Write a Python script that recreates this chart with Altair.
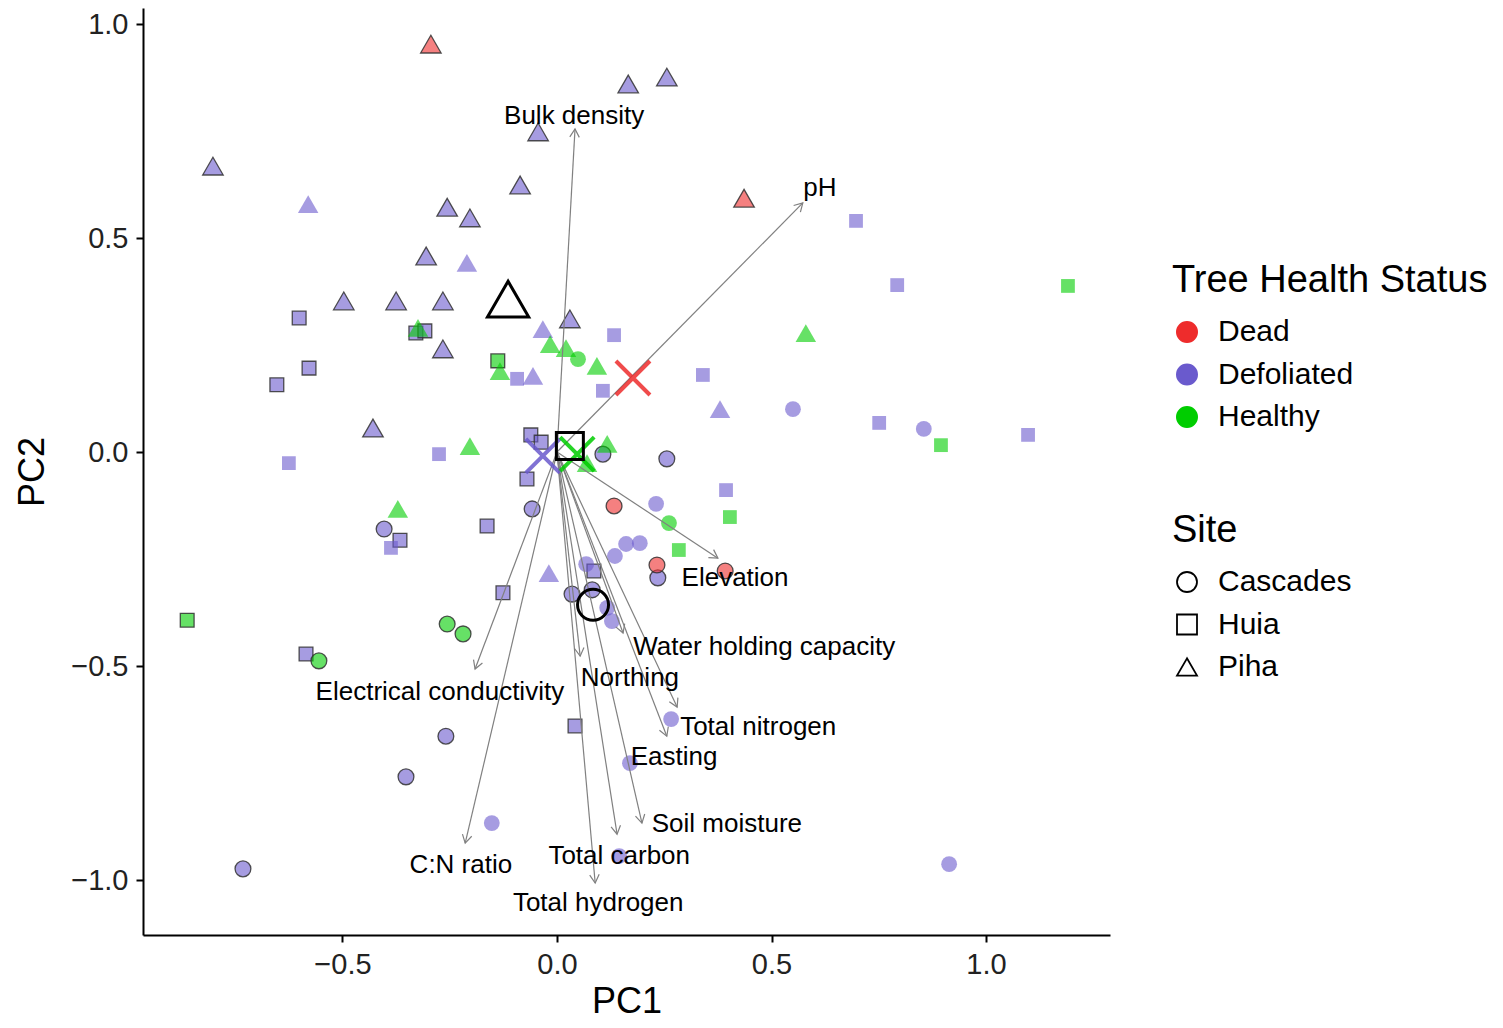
import math
import altair as alt
import pandas as pd

FONT = "Liberation Sans"
HEALTH = ["Dead", "Defoliated", "Healthy"]
HEALTH_COLORS = ["#EE2C2C", "#6A5ACD", "#00CD00"]
SITES = ["Cascades", "Huia", "Piha"]
SITE_SHAPES = ["circle", "square", "triangle-up"]
SHAPE_SIZE = {"Cascades": 250, "Huia": 190, "Piha": 420}

# ---- samples drawn with a dark outline ----
o_pc1 = [0.166, 0.256, -0.044, -0.086, -0.256, -0.203, -0.305, -0.497, -0.375, -0.266, -0.266, 0.030, -0.429, -0.802,
         -0.294, 0.436,
         -0.601, -0.578, -0.653, -0.329, -0.308, -0.061, -0.037, -0.070, -0.163, -0.366, -0.126, 0.086, -0.585, 0.042,
         -0.138, -0.862,
         0.107, 0.256, -0.058, -0.403, 0.235, 0.035, 0.082, -0.259, -0.352, -0.732,
         0.133, 0.233, 0.392,
         -0.256, -0.219, -0.555]
o_pc2 = [0.860, 0.876, 0.748, 0.624, 0.572, 0.547, 0.458, 0.353, 0.353, 0.353, 0.241, 0.311, 0.056, 0.668,
         0.953, 0.593,
         0.313, 0.196, 0.157, 0.278, 0.283, 0.040, 0.023, -0.063, -0.173, -0.206, -0.329, -0.278, -0.472, -0.640,
         0.213, -0.393,
         -0.005, -0.016, -0.133, -0.180, -0.294, -0.332, -0.322, -0.664, -0.759, -0.974,
         -0.126, -0.264, -0.278,
         -0.402, -0.425, -0.488]
o_health = (["Defoliated"] * 14 + ["Dead"] * 2 + ["Defoliated"] * 14 + ["Healthy"] * 2
            + ["Defoliated"] * 10 + ["Dead"] * 3 + ["Healthy"] * 3)
o_site = ["Piha"] * 16 + ["Huia"] * 16 + ["Cascades"] * 16

# ---- samples drawn without outline ----
p_pc1 = [-0.580, -0.210, -0.033, -0.056, 0.380, -0.019,
         -0.324, -0.016, 0.021, 0.093, -0.133, -0.203, 0.117, 0.070, -0.371, 0.580,
         0.133, -0.093, 0.107, 0.340, -0.275, -0.625, -0.387, 0.394, 0.697, 0.793, 0.751, 1.098,
         1.191, 0.895, 0.403, 0.284,
         0.550, 0.855, 0.231, 0.193, 0.161, 0.135, 0.068, 0.117, 0.128, 0.266, 0.170, -0.152, 0.145, 0.914,
         0.049, 0.261]
p_pc2 = [0.579, 0.442, 0.287, 0.178, 0.100, -0.283,
         0.290, 0.252, 0.243, 0.201, 0.189, 0.014, 0.019, -0.026, -0.133, 0.278,
         0.273, 0.171, 0.143, 0.180, -0.005, -0.026, -0.224, -0.089, 0.540, 0.390, 0.068, 0.040,
         0.388, 0.016, -0.152, -0.229,
         0.100, 0.054, -0.121, -0.213, -0.215, -0.243, -0.262, -0.364, -0.395, -0.624, -0.727, -0.867, -0.944, -0.963,
         0.217, -0.166]
p_health = (["Defoliated"] * 6 + ["Healthy"] * 10 + ["Defoliated"] * 12 + ["Healthy"] * 4
            + ["Defoliated"] * 14 + ["Healthy"] * 2)
p_site = ["Piha"] * 16 + ["Huia"] * 16 + ["Cascades"] * 16

# ---- variable loadings (arrows) ----
var_names = ["Bulk density", "pH", "Elevation", "Water holding capacity", "Northing",
             "Electrical conductivity", "Total nitrogen", "Easting", "Soil moisture",
             "Total carbon", "Total hydrogen", "C:N ratio"]
load_pc1 = [0.042, 0.573, 0.375, 0.154, 0.054, -0.191, 0.280, 0.256, 0.198, 0.140, 0.089, -0.214]
load_pc2 = [0.755, 0.582, -0.248, -0.423, -0.477, -0.507, -0.596, -0.664, -0.867, -0.893, -1.007, -0.914]
label_pc1 = [0.040, 0.613, 0.415, 0.483, 0.170, -0.273, 0.469, 0.273, 0.396, 0.145, 0.096, -0.224]
label_pc2 = [0.785, 0.617, -0.294, -0.456, -0.528, -0.561, -0.643, -0.713, -0.869, -0.944, -1.054, -0.965]

# ---- centroids ----
site_cent_pc1 = [0.084, 0.030, -0.114]
site_cent_pc2 = [-0.357, 0.014, 0.357]
health_cent_pc1 = [0.177, -0.033, 0.047]
health_cent_pc2 = [0.173, -0.009, -0.005]

XDOM = [-0.965, 1.289]
YDOM = [-1.1285, 1.0374]
W, H = 967, 927

df_o = pd.DataFrame({"pc1": o_pc1, "pc2": o_pc2, "health": o_health, "site": o_site})
df_o["sz"] = df_o["site"].map(SHAPE_SIZE)
df_p = pd.DataFrame({"pc1": p_pc1, "pc2": p_pc2, "health": p_health, "site": p_site})
df_p["sz"] = df_p["site"].map(SHAPE_SIZE)

sx = W / (XDOM[1] - XDOM[0])
sy = H / (YDOM[1] - YDOM[0])
df_l = pd.DataFrame({"var": var_names, "pc1": load_pc1, "pc2": load_pc2,
                     "lx": label_pc1, "ly": label_pc2})
df_l["ox"] = 0.0
df_l["oy"] = 0.0
df_l["ang"] = [(math.degrees(math.atan2(a * sx, b * sy))) % 360 for a, b in zip(load_pc1, load_pc2)]

df_sc = pd.DataFrame({"site": SITES, "pc1": site_cent_pc1, "pc2": site_cent_pc2})
df_hc = pd.DataFrame({"health": HEALTH, "pc1": health_cent_pc1, "pc2": health_cent_pc2})

minus_expr = "replace(format(datum.value, '.1f'), '-', '\u2212')"


def X(field):
    return alt.X(f"{field}:Q", title="PC1",
                 scale=alt.Scale(domain=XDOM, nice=False, zero=False),
                 axis=alt.Axis(values=[-0.5, 0, 0.5, 1.0], labelExpr=minus_expr))


def Y(field):
    return alt.Y(f"{field}:Q", title="PC2",
                 scale=alt.Scale(domain=YDOM, nice=False, zero=False),
                 axis=alt.Axis(values=[-1.0, -0.5, 0, 0.5, 1.0], labelExpr=minus_expr))


color_enc = alt.Color("health:N", scale=alt.Scale(domain=HEALTH, range=HEALTH_COLORS),
                      legend=alt.Legend(title="Tree Health Status", orient="none",
                                        legendX=1029, legendY=254, symbolType="circle",
                                        symbolStrokeColor="black", symbolStrokeWidth=1.5,
                                        symbolOpacity=1, symbolSize=420))
shape_enc = alt.Shape("site:N", scale=alt.Scale(domain=SITES, range=SITE_SHAPES),
                      legend=alt.Legend(title="Site", orient="none", legendX=1029, legendY=504,
                                        symbolFillColor="transparent", symbolStrokeColor="black",
                                        symbolStrokeWidth=1.8, symbolOpacity=1, symbolSize=400))
size_enc = alt.Size("sz:Q", scale=None, legend=None)

outlined = alt.Chart(df_o).mark_point(
    filled=True, opacity=1, fillOpacity=0.6, stroke="#333333", strokeOpacity=0.85, strokeWidth=1.3
).encode(x=X("pc1"), y=Y("pc2"), color=color_enc, shape=shape_enc, size=size_enc)

plain = alt.Chart(df_p).mark_point(filled=True, opacity=0.6).encode(
    x=X("pc1"), y=Y("pc2"), color=color_enc, shape=shape_enc, size=size_enc)

arrows = alt.Chart(df_l).mark_rule(color="#808080", strokeWidth=1.2).encode(
    x=X("ox"), y=Y("oy"), x2="pc1:Q", y2="pc2:Q")

CHEVRON = "M-0.5,0.87L0,0L0.5,0.87"
heads = alt.Chart(df_l).mark_point(
    shape=CHEVRON, filled=False, color="#808080", size=361, strokeWidth=1.2, opacity=1
).encode(x=X("pc1"), y=Y("pc2"), angle=alt.Angle("ang:Q", scale=None))

labels = alt.Chart(df_l).mark_text(font=FONT, fontSize=26, color="black").encode(
    x=X("lx"), y=Y("ly"), text="var:N")

XPATH = "M-1,-1L1,1M-1,1L1,-1"
crosses = alt.Chart(df_hc).mark_point(
    shape=XPATH, filled=False, size=1156, strokeWidth=4, opacity=0.85
).encode(x=X("pc1"), y=Y("pc2"),
         stroke=alt.Stroke("health:N", scale=alt.Scale(domain=HEALTH, range=HEALTH_COLORS), legend=None))

cent_layers = []
for s, shp, sz in zip(SITES, SITE_SHAPES, [961, 729, 1700]):
    cent_layers.append(
        alt.Chart(df_sc).transform_filter(alt.datum.site == s).mark_point(
            shape=shp, filled=False, color="black", strokeWidth=3, size=sz, opacity=1
        ).encode(x=X("pc1"), y=Y("pc2"))
    )

chart = alt.layer(outlined, plain, arrows, heads, labels, crosses, *cent_layers).properties(
    width=W, height=H,
    padding={"left": 135, "top": 0, "right": 385, "bottom": 85},
    autosize=alt.AutoSizeParams(type="none"),
).configure_axis(
    grid=False, domainColor="black", domainWidth=2, tickColor="black", tickWidth=2, tickSize=7,
    labelFont=FONT, labelFontSize=29, labelColor="#222222", labelPadding=8,
    titleFont=FONT, titleFontSize=36, titleFontWeight="normal", titleColor="black",
).configure_axisX(titlePadding=5).configure_axisY(titlePadding=19).configure_view(
    stroke="transparent"
).configure_legend(
    titleFont=FONT, titleFontSize=38, titleFontWeight="normal", titleColor="black",
    titleLimit=600, labelLimit=400,
    labelFont=FONT, labelFontSize=30, labelColor="black", labelOffset=16,
    rowPadding=12.5, titlePadding=17,
)

chart.save("out.html", embed_options={"renderer": "svg", "actions": False})
